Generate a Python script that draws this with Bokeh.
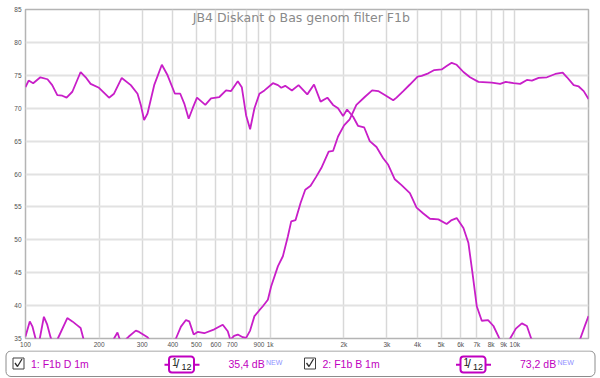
from bokeh.plotting import figure
from bokeh.models import FixedTicker, Range1d, Label, BoxAnnotation
from bokeh.layouts import column
from bokeh.core.properties import value
from bokeh.embed import file_html
from bokeh.resources import INLINE

# ---------------- data ----------------
title_text = "JB4 Diskant o Bas genom filter F1b"

x_ticks = [100, 200, 300, 400, 500, 600, 700, 800, 900, 1000,
           2000, 3000, 4000, 5000, 6000, 7000, 8000, 9000, 10000, 20000]
x_tick_labels = ["100", "200", "300", "400", "500", "600", "700", "", "900", "1k",
                 "2k", "3k", "4k", "5k", "6k", "7k", "8k", "9k", "10k", ""]
y_ticks = [35, 40, 45, 50, 55, 60, 65, 70, 75, 80, 85]

# Series 1: F1b D 1m (tweeter)
tw_f = [100, 104.1, 106.8, 109.9, 112, 114.4, 118.9, 122.7, 126.6, 130.9,
        135.6, 148.2, 155.4, 162.9, 168, 172.4, 184.6, 202.9, 218.9, 230,
        237.6, 242.1, 249.7, 259.4, 264.4, 282.4, 291.3, 315.3, 341.2, 374.9,
        411.9, 431.8, 452.6, 467, 486.9, 505.4, 537.9, 591.3, 640, 670.9,
        687.7, 712, 737.4, 772.9, 797.5, 828, 862.4, 903.8, 933.4, 978.6,
        1009, 1076, 1127, 1181, 1219, 1270, 1331, 1391, 1463, 1543,
        1618, 1734, 1807, 1894, 2004, 2113, 2251, 2435, 2611, 2763,
        2941, 3184, 3284, 3499, 3724, 4005, 4158, 4429, 4688, 5022,
        5263, 5519, 5785, 6164, 6559, 7100, 8049, 8708, 9186, 9878,
        10512, 11200, 11741, 12508, 13524, 14629, 15687, 16339, 17399, 18240,
        19118, 20000]
tw_db = [35.3, 37.6, 36.8, 35.0, 33.5, 35.0, 38.3, 37.1, 35.2, 33.8,
         35.0, 38.1, 37.6, 37.0, 36.6, 35.0, 32.5, 31.5, 32.5, 35.0,
         35.9, 35.0, 34.3, 35.0, 35.3, 36.2, 36.0, 35.2, 33.5, 33.0,
         35.0, 36.8, 37.8, 37.6, 35.6, 36.0, 35.8, 36.4, 37.1, 36.1,
         34.8, 35.4, 35.6, 35.2, 35.1, 36.2, 38.4, 39.3, 39.9, 40.9,
         42.9, 46.0, 47.5, 50.5, 52.8, 53.0, 55.6, 57.6, 58.2, 59.6,
         60.9, 63.4, 63.5, 65.7, 67.4, 68.3, 70.5, 71.7, 72.7, 72.6,
         72.0, 71.2, 71.6, 72.6, 73.6, 74.8, 74.9, 75.3, 75.8, 75.9,
         76.4, 76.9, 76.6, 75.5, 74.7, 74.0, 73.9, 73.7, 74.0, 73.8,
         73.7, 74.3, 74.2, 74.6, 74.7, 75.2, 75.4, 74.7, 73.5, 73.3,
         72.6, 71.4]

# Series 2: F1b B 1m (woofer)
bass_f = [100, 103, 107.5, 115, 123, 128.6, 134.9, 141.4, 147.2, 155.4,
          168, 176.2, 184.6, 199.7, 219.5, 230, 247.4, 269.4, 287, 296,
          305.3, 315.3, 335.7, 360.8, 380.8, 408, 429, 445.6, 464.4, 482.3,
          502.3, 543.1, 573.1, 619.8, 660.2, 692.1, 737.4, 765.6, 797.5, 828,
          862.4, 903.8, 947.6, 1026, 1076, 1110, 1152, 1227, 1306, 1418,
          1511, 1607, 1713, 1807, 1894, 1986, 2062, 2183, 2288, 2421,
          2553, 2720, 2897, 3037, 3231, 3443, 3724, 3966, 4225, 4497,
          4869, 5263, 5519, 5785, 6164, 6461, 6709, 6988, 7325, 7773,
          8178, 8624, 9057, 9566, 10093, 10682, 11200, 11665, 12900, 14860,
          17130, 18520, 19360, 20000]
bass_db = [73.2, 74.2, 73.8, 74.7, 74.4, 73.5, 72.0, 71.9, 71.6, 72.5,
           75.5, 74.7, 73.7, 73.1, 71.6, 72.2, 74.6, 73.5, 72.2, 70.5,
           68.2, 69.2, 73.5, 76.6, 75.0, 72.2, 72.2, 70.7, 68.4, 70.0,
           71.6, 70.5, 71.5, 71.7, 72.7, 72.6, 74.1, 73.2, 68.9, 66.8,
           70.0, 72.2, 72.7, 73.8, 73.5, 73.1, 73.4, 72.7, 73.5, 72.1,
           73.6, 71.0, 71.6, 70.5, 70.0, 68.8, 69.8, 68.7, 67.3, 67.1,
           65.0, 64.1, 62.4, 61.4, 59.2, 58.3, 57.1, 54.9, 54.0, 53.2,
           53.1, 52.4, 53.0, 53.3, 51.8, 49.5, 45.0, 39.9, 37.7, 37.8,
           36.9, 35.1, 33.5, 35.0, 36.5, 37.3, 36.9, 35.0, 33.0, 32.0,
           33.0, 35.0, 37.0, 38.4]

legend_names = ["1: F1b D 1m", "2: F1b B 1m"]
legend_values = ["35,4 dB", "73,2 dB"]

# ---------------- styles ----------------
CURVE = "#c81ec8"
TXT = "#c000c0"
FONT = "Liberation Sans"

p = figure(width=600, height=350, x_axis_type="log",
           x_range=Range1d(100, 20000), y_range=Range1d(35, 85),
           output_backend="svg", toolbar_location=None,
           min_border_left=25, min_border_right=12,
           min_border_top=9, min_border_bottom=11)
p.frame_align = False
p.background_fill_color = "white"
p.border_fill_color = "white"
p.outline_line_color = "#b4b4b4"
p.outline_line_width = 1.5

p.xaxis.ticker = FixedTicker(ticks=x_ticks)
p.xaxis.major_label_overrides = {t: l for t, l in zip(x_ticks, x_tick_labels)}
p.yaxis.ticker = FixedTicker(ticks=y_ticks)
for ax in (p.xaxis, p.yaxis):
    ax.axis_line_color = None
    ax.major_tick_line_color = None
    ax.minor_tick_line_color = None
    ax.major_tick_out = 0
    ax.major_tick_in = 0
    ax.minor_tick_out = 0
    ax.minor_tick_in = 0
    ax.major_label_text_font = FONT
    ax.major_label_text_font_size = "6.5px"
    ax.major_label_text_color = "#505050"
p.xaxis.major_label_standoff = 2
p.yaxis.major_label_standoff = 4

p.xgrid.grid_line_color = "#d8d8d8"
p.xgrid.grid_line_width = 1.5
p.ygrid.grid_line_color = "#e2e2e2"
p.ygrid.grid_line_width = 2

p.line(tw_f, tw_db, line_color=CURVE, line_width=1.8)
p.line(bass_f, bass_db, line_color=CURVE, line_width=1.8)

p.add_layout(Label(x=1340, y=83.8, text=title_text, text_align="center",
                   text_baseline="middle", text_color="#8a8a8a",
                   text_font="DejaVu Sans", text_font_size="12.5px"))
p.add_layout(Label(x=96, y=85.6, text="dB", text_align="right",
                   text_baseline="middle", text_color="#505050",
                   text_font=FONT, text_font_size="6.5px"))
p.add_layout(Label(x=17360, y=33.9, text="20,0k Hz", text_align="left",
                   text_baseline="middle", text_color="#505050",
                   text_font=FONT, text_font_size="6.5px"))

# ---------------- legend strip ----------------
lg = figure(width=600, height=28, x_range=Range1d(0, 600), y_range=Range1d(0, 28),
            output_backend="svg", toolbar_location=None,
            min_border_left=0, min_border_right=0, min_border_top=0, min_border_bottom=0,
            x_axis_location=None, y_axis_location=None)
lg.frame_align = False
lg.grid.visible = False
lg.outline_line_color = None
lg.background_fill_color = "white"
lg.border_fill_color = "white"

lg.add_layout(BoxAnnotation(left=5.5, right=594.5, bottom=2, top=27.5,
                            border_radius=5, fill_alpha=0,
                            line_color="#8c8c8c", line_width=1, line_alpha=1,
                            level="underlay"))

for i, (name, val) in enumerate(zip(legend_names, legend_values)):
    o = i * 291.5
    # checkbox
    lg.add_layout(BoxAnnotation(left=12.5 + o, right=23.5 + o, bottom=9.5, top=20.5,
                                fill_alpha=0, line_color="#404040", line_width=1,
                                line_alpha=1, level="underlay"))
    lg.line(x=[14.5 + o, 17 + o, 21.5 + o], y=[15.5, 12, 19.5],
            line_color="#303030", line_width=1.3)
    lg.text(x=[30.5 + o], y=[14.3], text=[name], text_font=value(FONT),
            text_font_size="10.5px", text_color=TXT, text_baseline="middle")
    # smoothing badge
    lg.segment(x0=[164 + o, 193.5 + o], y0=[13.7, 13.7],
               x1=[168.5 + o, 199 + o], y1=[13.7, 13.7],
               line_color=TXT, line_width=2)
    lg.add_layout(BoxAnnotation(left=168.5 + o, right=193.5 + o, bottom=6, top=22,
                                border_radius=3, fill_alpha=0,
                                line_color=TXT, line_width=2, line_alpha=1,
                                level="underlay"))
    lg.text(x=[171.5 + o], y=[17], text=["1"], text_font=value(FONT),
            text_font_size="10px", text_color="#202020", text_baseline="middle")
    lg.text(x=[175.5 + o], y=[14.3], text=["/"], text_font=value(FONT),
            text_font_size="12px", text_color="#202020", text_baseline="middle")
    lg.text(x=[181 + o], y=[11.5], text=["12"], text_font=value(FONT),
            text_font_size="9px", text_color="#202020", text_baseline="middle")
    # value
    lg.text(x=[228 + o], y=[14.3], text=[val], text_font=value(FONT),
            text_font_size="10.5px", text_color=TXT, text_baseline="middle")
    lg.text(x=[265.5 + o], y=[16.5], text=["NEW"], text_font=value(FONT),
            text_font_size="7px", text_color="#8f8fff", text_baseline="middle")

layout = column(p, lg)
open("out.html", "w").write(file_html(layout, INLINE))
